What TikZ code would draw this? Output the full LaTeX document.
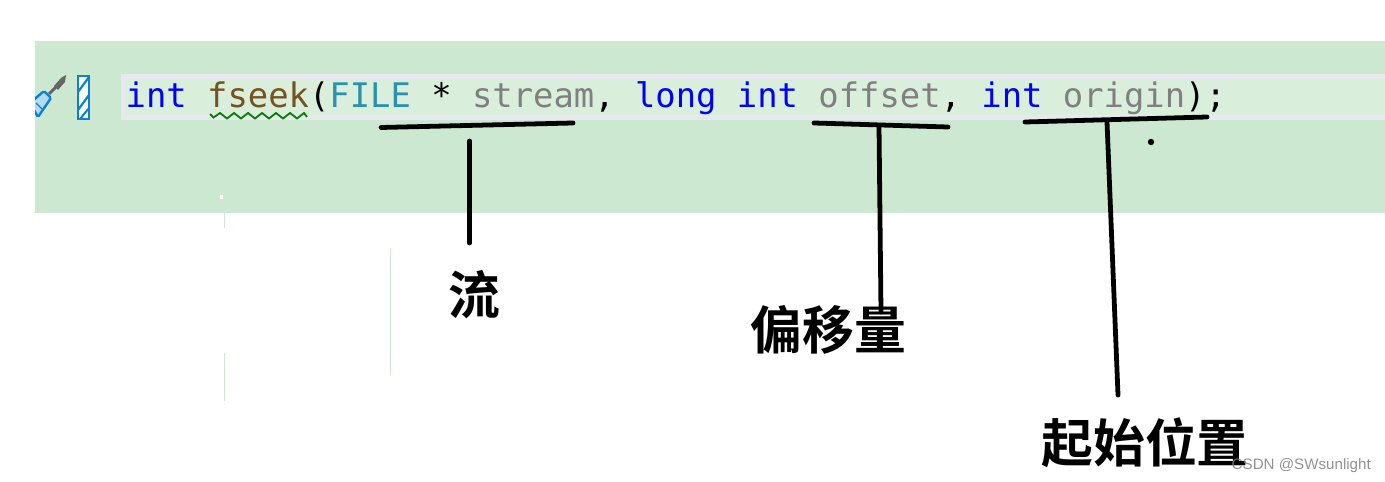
\documentclass[tikz,border=0pt]{standalone}
\usepackage{fontspec}
\setmonofont{DejaVu Sans Mono}
\setsansfont{Liberation Sans}
\newfontfamily\cjk{Noto Sans CJK SC}[BoldFont={* Bold}]
\definecolor{band}{HTML}{CDE8D0}
\definecolor{linebg}{HTML}{DAEEDC}
\definecolor{lineedge}{HTML}{E8E8F0}
\definecolor{kw}{HTML}{0000FF}
\definecolor{fn}{HTML}{74531F}
\definecolor{ty}{HTML}{2B91AF}
\definecolor{par}{HTML}{808080}
\definecolor{tool}{HTML}{0C7FD8}
\definecolor{faint}{HTML}{CDE8D2}
\tikzset{
  ink/.style={line width=4.8pt,line cap=round,line join=round,black},
  cjklabel/.style={font=\cjk\bfseries\fontsize{52}{52}\selectfont,inner sep=0pt,text=black},
  faintline/.style={faint,line width=0.8pt}
}
\begin{document}
\begin{tikzpicture}[x=1bp,y=-1bp]
\useasboundingbox (0,0) rectangle (1385,482);
\fill[white] (0,0) rectangle (1385,482);
\fill[band] (35,41) rectangle (1385,213);
\fill[lineedge] (121,74) rectangle (1385,120);
\fill[linebg] (126,79) rectangle (1385,115);
% faint marks
\draw[faintline] (224.5,205) -- (224.5,228);
\draw[faintline] (224.5,353) -- (224.5,401);
\draw[faintline] (390.5,248) -- (390.5,375);
\fill[white] (219.5,195.5) rectangle (223,199.5);
% screwdriver icon
\begin{scope}
\clip (35,41) rectangle (100,130);
\draw[line width=3pt,color=black!60] (49,94) -- (58,85);
\fill[black!60,line join=round] (54,86) -- (61,78) -- (66,75) -- (65,82) -- (58,90) -- cycle;
\draw[tool,line width=2.4pt,fill=tool!30,rounded corners=1.5pt] (51,98) -- (44,91) -- (30,103) -- (38,117) -- cycle;
\draw[tool,line width=1.2pt] (36,103) -- (42,109);
\end{scope}
% hatched marker
\draw[tool,line width=2pt,fill=white] (78,76) rectangle (89,119);
\draw[tool,line width=2.2pt] (78,92) -- (89,77);
\draw[tool,line width=2.2pt] (78,110) -- (89,95);
\draw[tool,line width=2pt] (80,119) -- (89,108);
% code
\node[anchor=base west,inner sep=0pt,font=\ttfamily\fontsize{33.97}{34}\selectfont] (code) at (125.5,107.5)
 {\textcolor{kw}{int} \textcolor{fn}{fseek}(\textcolor{ty}{FILE} * \textcolor{par}{stream}, \textcolor{kw}{long} \textcolor{kw}{int} \textcolor{par}{offset}, \textcolor{kw}{int} \textcolor{par}{origin});};
% squiggle
\draw[green!50!black,line width=1.8pt] (210,114) -- (213.5,117.5) -- (220,113) -- (227,118.5) -- (234,113) -- (241,118.5) -- (248,113) -- (255,118.5) -- (262,113) -- (269,118.5) -- (276,113) -- (283,118.5) -- (290,113) -- (297,118.5) -- (304,113) -- (307,117);
% hand-drawn strokes
\coordinate (a1) at (381,127.5);
\coordinate (a2) at (573,123);
\coordinate (a3) at (469.5,141);
\coordinate (a4) at (469.5,243);
\coordinate (b1) at (814,123);
\coordinate (b2) at (948,127);
\coordinate (b3) at (879,126);
\coordinate (b4) at (881,312);
\coordinate (c1) at (1025,122);
\coordinate (c2) at (1207,117);
\coordinate (c3) at (1107,122);
\coordinate (c4) at (1118,395);
\draw[ink] (a1) -- (a2);
\draw[ink] (a3) -- (a4);
\draw[ink] (b1) -- (b2);
\draw[ink] (b3) -- (b4);
\draw[ink] (c1) -- (c2);
\draw[ink] (c3) -- (c4);
\fill[black] (1151,142) circle (3.2);
% labels
\node[cjklabel] (liu) at (474,295) {流};
\node[cjklabel] (pian) at (828.5,330) {偏移量};
\node[cjklabel] (qishi) at (1145,443) {起始位置};
\node[inner sep=0pt,anchor=base east,font=\sffamily\fontsize{15.2}{16}\selectfont,text=black!50,opacity=0.85] (wm) at (1371,469) {CSDN @SWsunlight};
\end{tikzpicture}
\end{document}
